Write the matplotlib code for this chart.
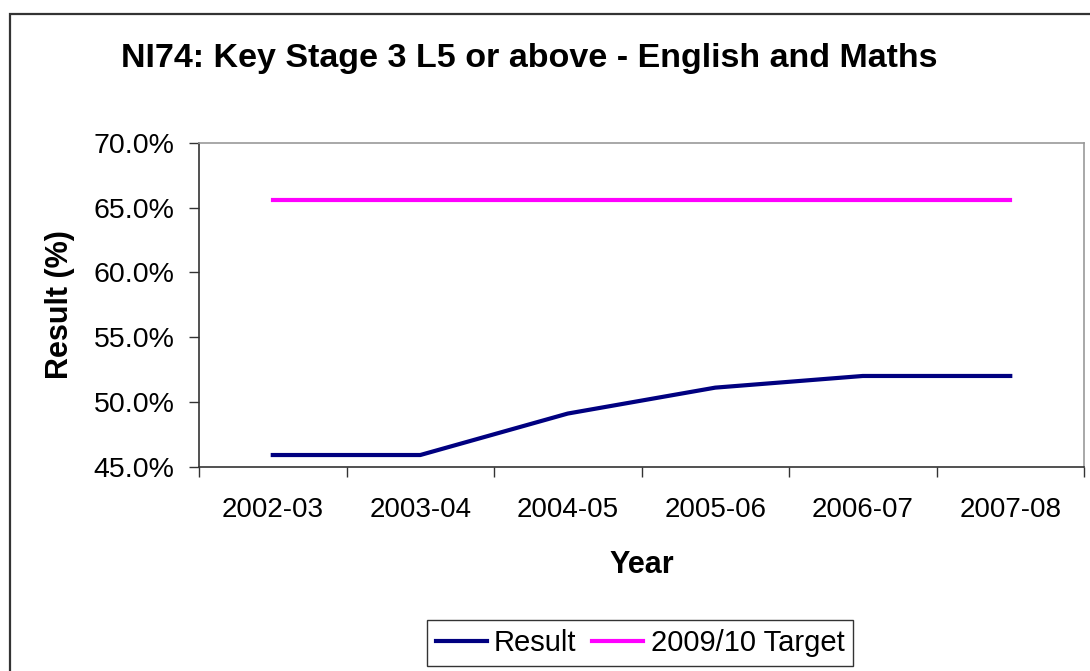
import numpy as np
import matplotlib
matplotlib.use("Agg")
import matplotlib.pyplot as plt
from matplotlib.patches import Rectangle
from matplotlib.ticker import FuncFormatter, FixedLocator

plt.rcParams['font.family'] = ['Liberation Sans', 'DejaVu Sans']

# chart data
years = ['2002-03', '2003-04', '2004-05', '2005-06', '2006-07', '2007-08']
result = [45.9, 45.9, 49.1, 51.1, 52.0, 52.0]
target = [65.6, 65.6, 65.6, 65.6, 65.6, 65.6]

fig = plt.figure(figsize=(10.9, 6.71), dpi=100)

# outer chart border (Excel style)
fig.patches.append(Rectangle((10 / 1090, -0.02), 1.05, 1 - 14 / 671 + 0.02,
                             transform=fig.transFigure, fill=False,
                             edgecolor='#333333', linewidth=1.6))

ax = fig.add_axes([0.1826, 0.3045, 0.8119, 0.4828])
x = np.arange(len(years))
ax.plot(x, result, color='#000080', linewidth=3, label='Result')
ax.plot(x, target, color='#FF00FF', linewidth=3, label='2009/10 Target')

ax.set_xlim(-0.5, len(years) - 0.5)
ax.set_ylim(45, 70)
ax.set_yticks(np.arange(45, 70.1, 5))
ax.yaxis.set_major_formatter(FuncFormatter(lambda v, p: '%.1f%%' % v))

# category labels centred, ticks at the boundaries
ax.set_xticks(x)
ax.set_xticklabels(years)
ax.xaxis.set_minor_locator(FixedLocator(np.arange(-0.5, len(years), 1.0)))
ax.tick_params(axis='x', which='major', length=0, pad=22, labelsize=20)
ax.tick_params(axis='x', which='minor', length=7.5, width=1, color='#333333')
ax.tick_params(axis='y', length=7.5, width=1, color='#333333', pad=10, labelsize=20.5)

for s in ['left', 'bottom']:
    ax.spines[s].set_color('#333333')
    ax.spines[s].set_linewidth(1.2)
for s in ['top', 'right']:
    ax.spines[s].set_color('#999999')
    ax.spines[s].set_linewidth(1.2)

fig.text(529 / 1090, 1 - 58 / 671, 'NI74: Key Stage 3 L5 or above - English and Maths',
         ha='center', va='center', fontsize=24.5, fontweight='bold')
fig.text(642 / 1090, 1 - 565 / 671, 'Year', ha='center', va='center',
         fontsize=22, fontweight='bold')
fig.text(60 / 1090, 1 - 305 / 671, 'Result (%)', ha='center', va='center',
         rotation=90, fontsize=22, fontweight='bold')

leg = fig.legend(loc='center', bbox_to_anchor=(640 / 1090, 1 - 643 / 671), ncol=2,
                 fontsize=21, frameon=True, fancybox=False, edgecolor='black',
                 handlelength=1.75, handletextpad=0.25, columnspacing=0.55,
                 borderpad=0.3)
leg.get_frame().set_linewidth(1.0)

fig.savefig('out.png', dpi=100)
